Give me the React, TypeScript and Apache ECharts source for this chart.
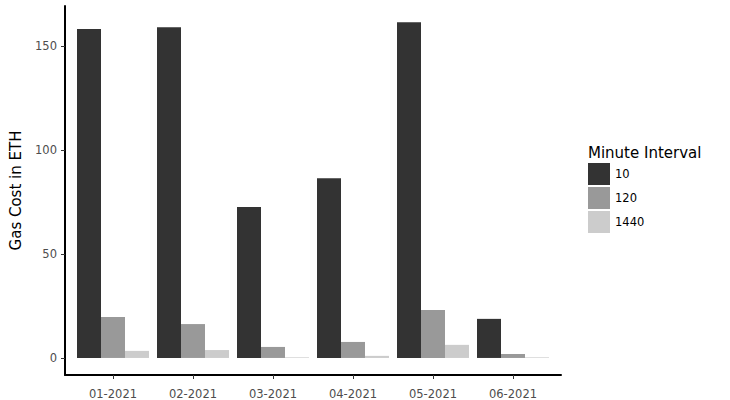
import React, { useEffect, useRef } from "react";
import * as echarts from "echarts";

const categories = ["01-2021", "02-2021", "03-2021", "04-2021", "05-2021", "06-2021"];
const seriesNames = ["10", "120", "1440"];
const values10 = [158.2, 159.1, 72.6, 86.5, 161.5, 18.8];
const values120 = [19.7, 16.3, 5.3, 7.7, 23.1, 1.9];
const values1440 = [3.4, 3.8, 0.3, 1.0, 6.3, 0.3];
const colors = ["#333333", "#999999", "#cccccc"];
const yTicks = [0, 50, 100, 150];

export default function App() {
  const ref = useRef<HTMLDivElement>(null);
  useEffect(() => {
    if (!ref.current) return;
    const chart = echarts.init(ref.current, null, { renderer: "svg" });
    const all = [values10, values120, values1440];
    const font = "DejaVu Sans";
    chart.setOption({
      animation: false,
      textStyle: { fontFamily: font },
      grid: { left: 65, right: 169, top: 6, bottom: 25, containLabel: false },
      xAxis: {
        type: "value",
        min: -0.6,
        max: categories.length - 1 + 0.6,
        splitLine: { show: false },
        axisLine: { show: true, onZero: false, lineStyle: { color: "#000", width: 2 } },
        axisTick: {
          show: true,
          length: 4,
          lineStyle: { color: "#333" },
          customValues: categories.map((_, i) => i),
        },
        axisLabel: {
          color: "#4d4d4d",
          fontSize: 11.5,
          margin: 13,
          customValues: categories.map((_, i) => i),
          formatter: (v: number) => categories[Math.round(v)] ?? "",
        },
      },
      yAxis: {
        type: "value",
        min: -8.2,
        max: 169.3,
        splitLine: { show: false },
        name: "Gas Cost in ETH",
        nameLocation: "middle",
        nameGap: 42,
        nameTextStyle: { fontSize: 15, color: "#000", fontFamily: font },
        axisLine: { show: true, onZero: false, lineStyle: { color: "#000", width: 2 } },
        axisTick: { show: true, length: 4, lineStyle: { color: "#333" }, customValues: yTicks },
        axisLabel: { color: "#4d4d4d", fontSize: 11.5, margin: 8, customValues: yTicks },
      },
      legend: {
        orient: "vertical",
        left: 588,
        top: 163,
        padding: 0,
        itemWidth: 22,
        itemHeight: 22,
        itemGap: 2,
        icon: "rect",
        textStyle: { fontSize: 11.5, color: "#000", fontFamily: font },
        data: seriesNames,
      },
      graphic: [
        {
          type: "text",
          left: 588,
          top: 145,
          style: { text: "Minute Interval", fontSize: 15, fill: "#000", fontFamily: font },
        },
      ],
      series: all.map((vals, si) => ({
        type: "bar",
        name: seriesNames[si],
        barWidth: 24,
        barGap: "0%",
        itemStyle: { color: colors[si] },
        data: vals.map((v, i) => [i, v]),
      })),
    });
    return () => chart.dispose();
  }, []);
  return <div ref={ref} style={{ width: 730, height: 400, position: "absolute", left: 0, top: 0 }} />;
}
